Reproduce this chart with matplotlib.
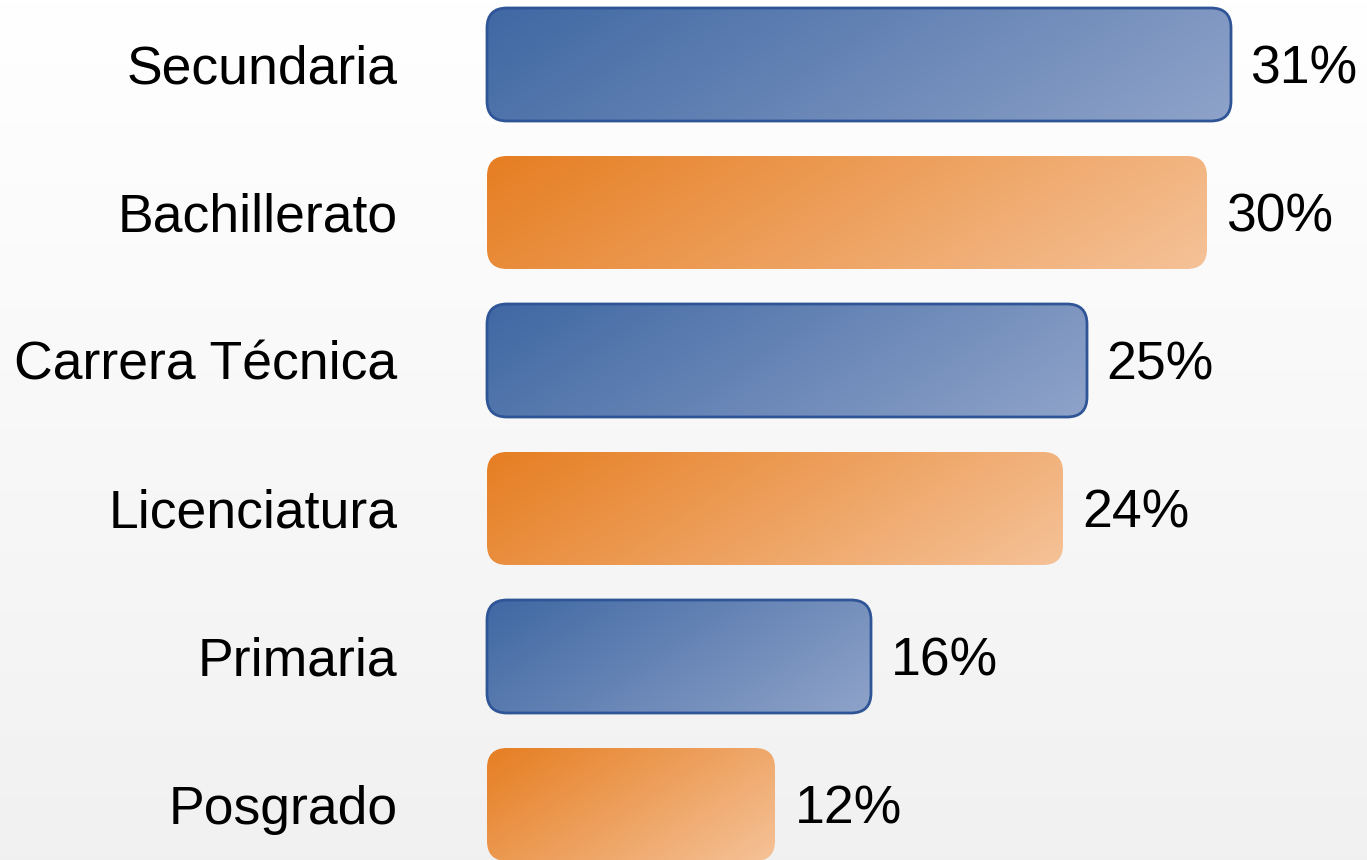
import matplotlib.pyplot as plt
import numpy as np
from matplotlib.patches import FancyBboxPatch
from matplotlib.colors import to_rgb

plt.rcParams['font.family'] = ['Liberation Sans', 'DejaVu Sans']

categories = ["Secundaria", "Bachillerato", "Carrera Técnica", "Licenciatura", "Primaria", "Posgrado"]
values = [31, 30, 25, 24, 16, 12]
kinds = ["blue", "orange", "blue", "orange", "blue", "orange"]

# gradient start (top-left) / end (bottom-right) colours
grad = {
    "blue": ("#4068a3", "#8fa3c9"),
    "orange": ("#e67e22", "#f5c298"),
}
edge = {"blue": "#2f5597", "orange": "none"}

W, H, DPI = 1367, 860, 100
fig = plt.figure(figsize=(W / DPI, H / DPI), dpi=DPI)

# background: soft vertical gradient
bg = fig.add_axes([0, 0, 1, 1], zorder=-1)
g = np.linspace(1.0, 0.945, 256)[:, None]
bg.imshow(np.dstack([g, g, g]), aspect='auto', extent=(0, 1, 0, 1))
bg.axis('off')

x0_px = 487
ax_left_px = 467
px_per_pct = 24
px_per_row = 148
first_px = 64.5

ax = fig.add_axes([ax_left_px / W, 0, 1 - ax_left_px / W, 1])
ax.set_facecolor('none')
xmin = -(x0_px - ax_left_px) / px_per_pct
xmax = (W - x0_px) / px_per_pct
top = -first_px / px_per_row
bottom = (H - first_px) / px_per_row

bar_h = 113 / px_per_row
r_px = 20
rx = r_px / px_per_pct
aspect = px_per_pct / px_per_row

for i, (v, k) in enumerate(zip(values, kinds)):
    y0 = i - bar_h / 2
    patch = FancyBboxPatch((0, y0), v, bar_h,
                           boxstyle=f"round,pad=0,rounding_size={rx}",
                           mutation_aspect=aspect, facecolor='none',
                           edgecolor=edge[k], linewidth=2, zorder=3)
    ax.add_patch(patch)
    # diagonal gradient in pixel space
    wpx, hpx = v * px_per_pct, 113
    xx, yy = np.meshgrid(np.linspace(0, wpx, 200), np.linspace(0, hpx, 60))
    t = (xx + yy * 1.5) / (wpx + hpx * 1.5)
    c0, c1 = np.array(to_rgb(grad[k][0])), np.array(to_rgb(grad[k][1]))
    img = c0[None, None, :] * (1 - t[..., None]) + c1[None, None, :] * t[..., None]
    im = ax.imshow(img, extent=(0, v, y0 + bar_h, y0), aspect='auto',
                   interpolation='bilinear', zorder=2)
    clip = FancyBboxPatch((0, y0), v, bar_h,
                          boxstyle=f"round,pad=0,rounding_size={rx}",
                          mutation_aspect=aspect, facecolor='none',
                          edgecolor='none', transform=ax.transData)
    im.set_clip_path(clip)
    ax.annotate(f"{v}%", (v, i), xytext=(14, 0), textcoords='offset points',
                ha='left', va='center_baseline', fontsize=38.5, color='black')

ax.set_xlim(xmin, xmax)
ax.set_ylim(bottom, top)
ax.set_yticks(range(len(categories)), categories)
ax.tick_params(axis='y', length=0, pad=50, labelsize=38.5)
ax.set_xticks([])
for s in ax.spines.values():
    s.set_visible(False)

plt.savefig("out.png", dpi=DPI)
